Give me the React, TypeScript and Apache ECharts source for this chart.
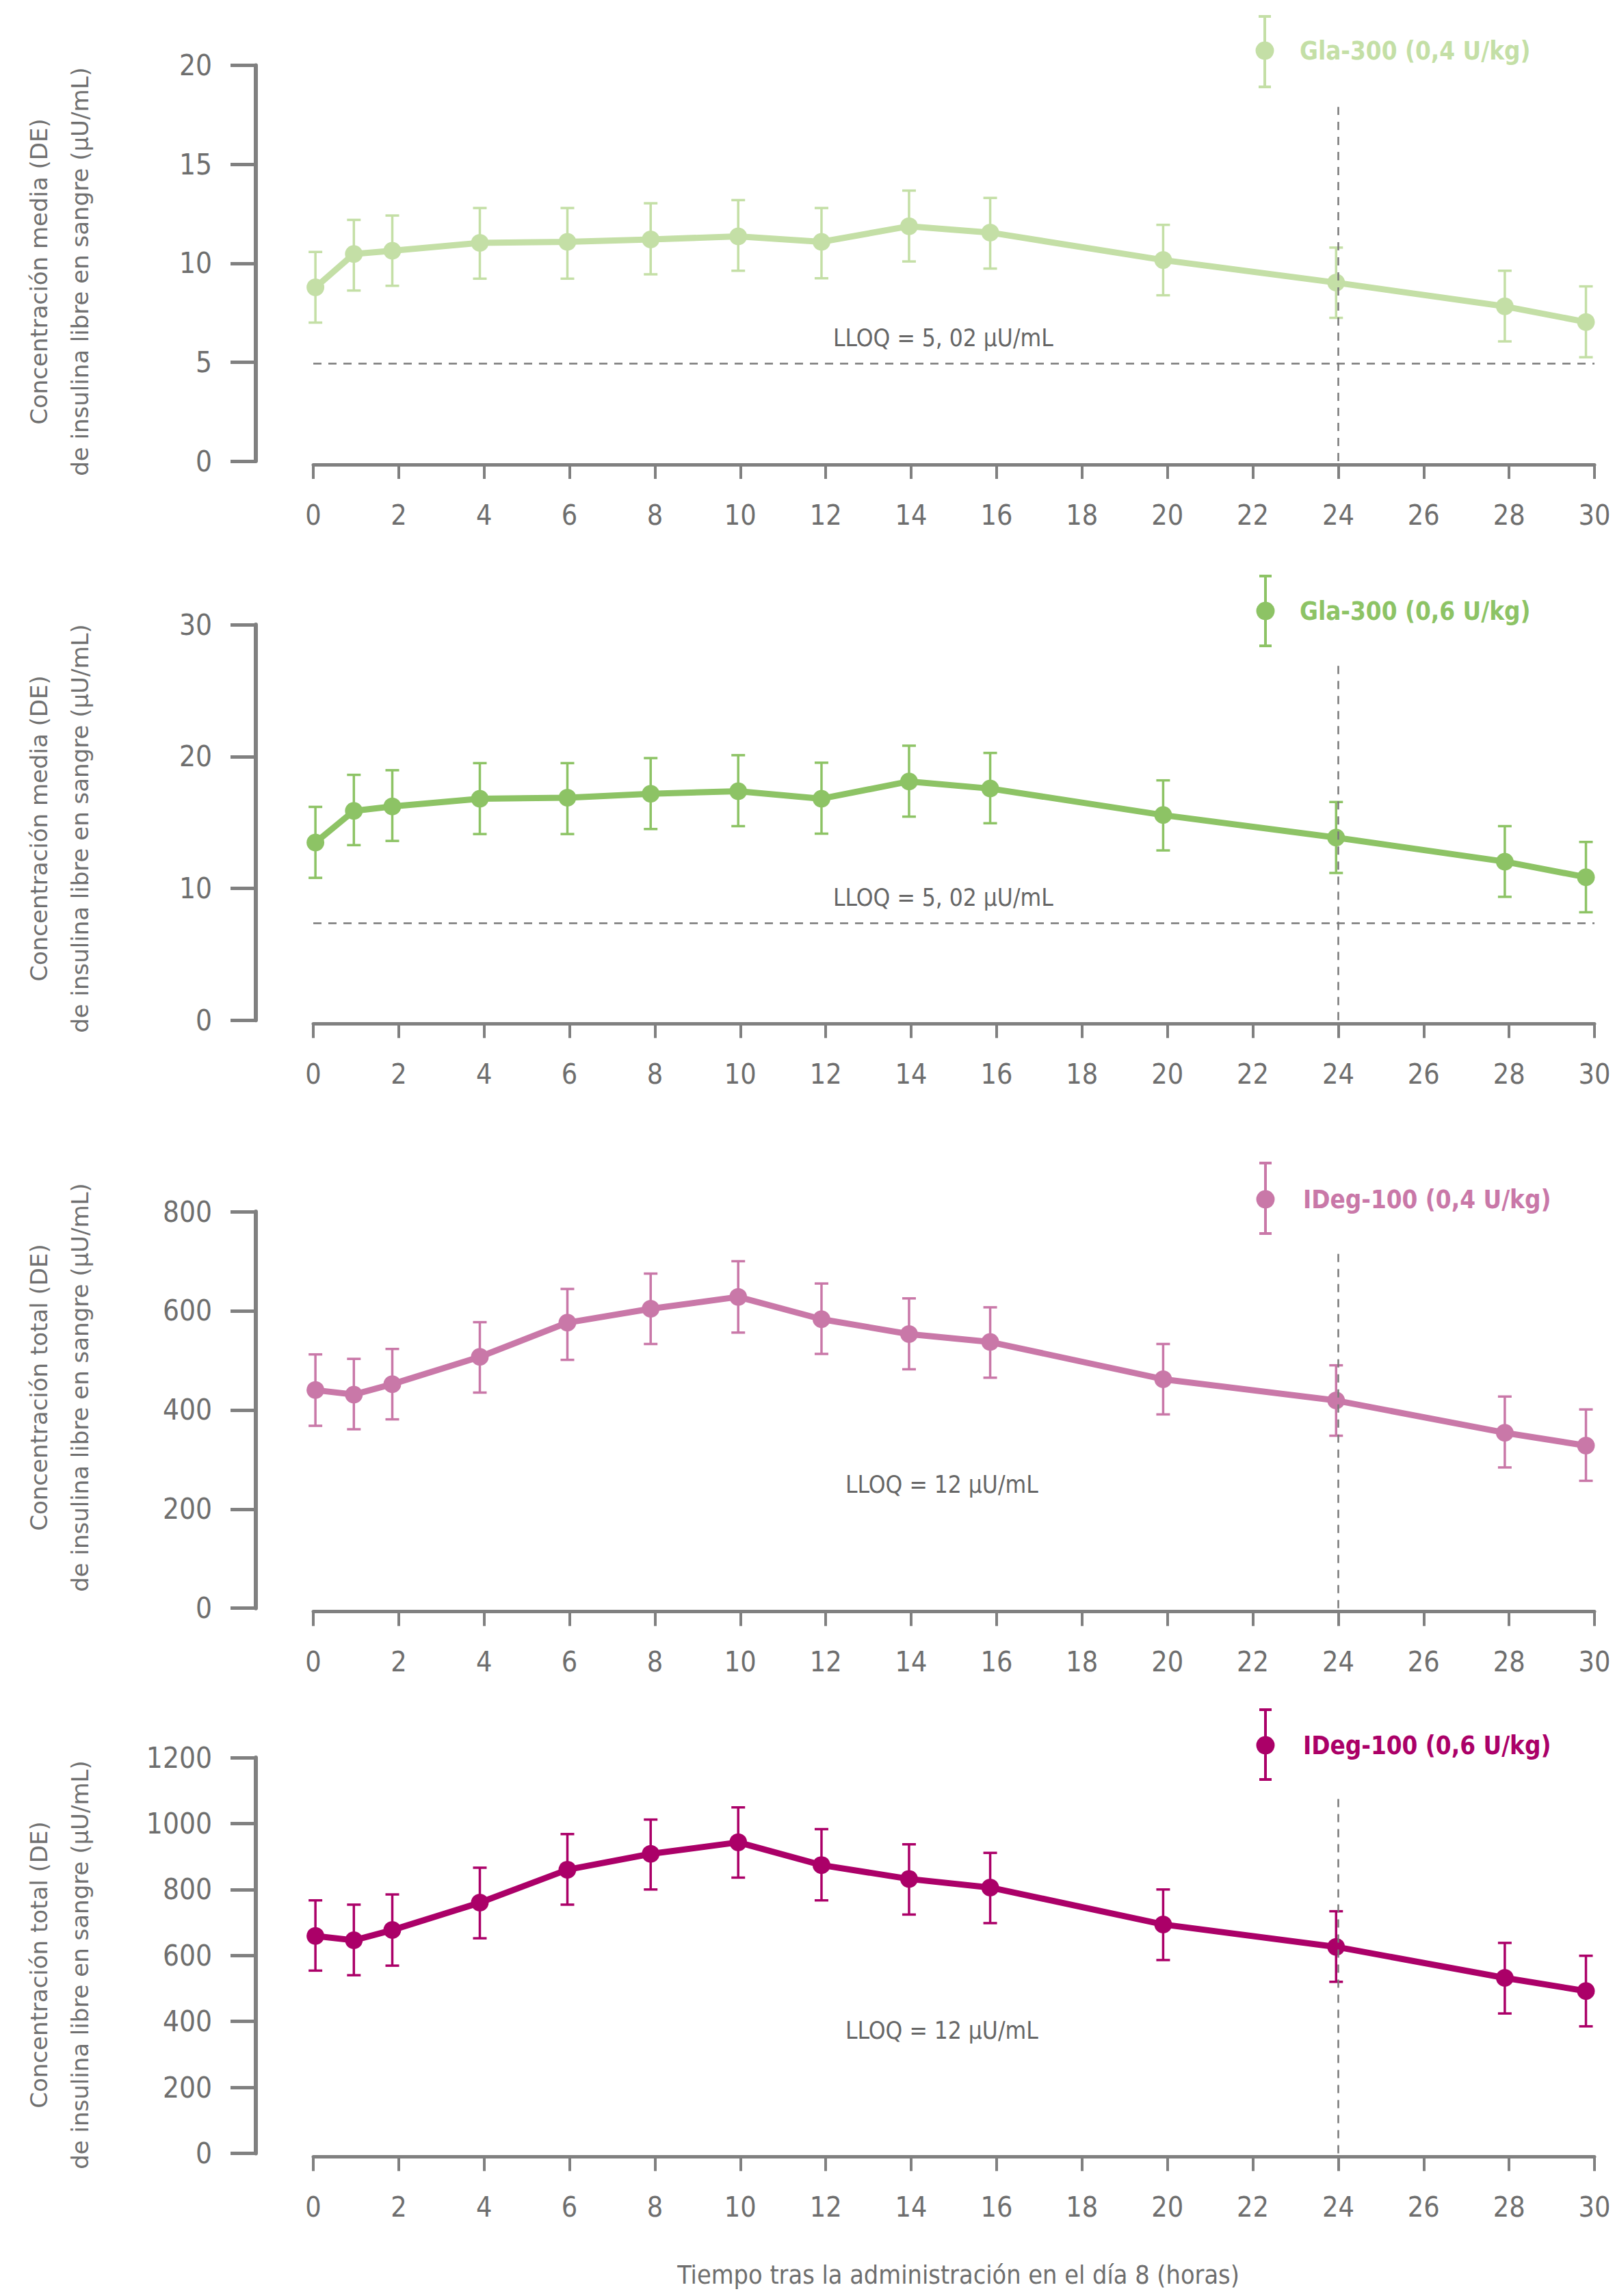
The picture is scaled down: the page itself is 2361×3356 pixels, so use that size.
import React, { useEffect, useRef } from "react";
import * as echarts from "echarts";

// ---------- data ----------
const times = [0.05, 0.95, 1.85, 3.9, 5.95, 7.9, 9.95, 11.9, 13.95, 15.85, 19.9, 23.95, 27.9, 29.8];
const xTicks = { min: 0, max: 30, interval: 2 };

const gla04Mean = [8.78, 10.47, 10.63, 11.03, 11.08, 11.2, 11.36, 11.08, 11.87, 11.55, 10.16, 9.02, 7.82, 7.03];
const gla04Hi = [10.57, 12.19, 12.41, 12.79, 12.79, 13.03, 13.19, 12.79, 13.67, 13.3, 11.94, 10.79, 9.62, 8.83];
const gla04Lo = [7.0, 8.62, 8.86, 9.22, 9.22, 9.44, 9.62, 9.24, 10.09, 9.73, 8.38, 7.24, 6.05, 5.25];

const gla06Mean = [13.48, 15.88, 16.21, 16.8, 16.88, 17.17, 17.37, 16.8, 18.11, 17.57, 15.56, 13.85, 12.03, 10.85];
const gla06Hi = [16.18, 18.61, 18.96, 19.5, 19.5, 19.88, 20.1, 19.53, 20.82, 20.27, 18.19, 16.55, 14.72, 13.52];
const gla06Lo = [10.8, 13.28, 13.6, 14.12, 14.12, 14.5, 14.72, 14.15, 15.44, 14.94, 12.88, 11.17, 9.36, 8.19];

const ideg04Mean = [440, 431, 452, 507, 576, 604, 628, 583, 553, 537, 462, 419, 354, 328];
const ideg04Hi = [512, 503, 523, 577, 644, 675, 700, 655, 625, 607, 533, 490, 427, 401];
const ideg04Lo = [368, 361, 381, 435, 501, 533, 556, 513, 482, 465, 391, 348, 284, 257];

const ideg06Mean = [659, 646, 677, 760, 860, 908, 943, 874, 832, 806, 694, 626, 532, 492];
const ideg06Hi = [767, 754, 785, 866, 968, 1012, 1049, 983, 937, 911, 800, 734, 638, 599];
const ideg06Lo = [554, 540, 569, 652, 754, 800, 836, 767, 724, 698, 586, 520, 424, 385];

const seriesNames = ["Gla-300 (0,4 U/kg)", "Gla-300 (0,6 U/kg)", "IDeg-100 (0,4 U/kg)", "IDeg-100 (0,6 U/kg)"];
const yMax = [20, 30, 800, 1200];
const yInterval = [5, 10, 200, 200];
const lloqLabels = ["LLOQ = 5, 02 µU/mL", "LLOQ = 5, 02 µU/mL", "LLOQ = 12 µU/mL", "LLOQ = 12 µU/mL"];
const lloqLineValue = [4.92, 7.38, null, null];
const refHour = 24;
const refLineTop = [17.9, 26.9, 717, 1078];
const yTitleLine1 = [
  "Concentración media (DE)",
  "Concentración media (DE)",
  "Concentración total (DE)",
  "Concentración total (DE)",
];
const yTitleLine2 = "de insulina libre en sangre (µU/mL)";
const xTitle = "Tiempo tras la administración en el día 8 (horas)";

// ---------- layout / style ----------
const W = 2361;
const H = 3356;
const colors = ["#c4dfa6", "#8dc365", "#c978a8", "#ab0068"];
const grids = [
  { top: 95.5, height: 578.5 },
  { top: 913, height: 578.3 },
  { top: 1771, height: 579.7 },
  { top: 2569, height: 578.4 },
];
const gridLeft = 458;
const gridRight = 2331;
const axisColor = "#808080";
const labelColor = "#6e6e6e";
const narrowFont = "'Liberation Sans Narrow', 'DejaVu Sans Condensed', 'Roboto', sans-serif";
const wideFont = "'DejaVu Sans', 'Noto Sans', sans-serif";

const legendPos = [
  { x: 1849, y: 74, top: 24, bottom: 127, tx: 1900 },
  { x: 1850, y: 893, top: 842, bottom: 944, tx: 1900 },
  { x: 1850, y: 1753, top: 1700, bottom: 1803, tx: 1905 },
  { x: 1850, y: 2551, top: 2499, bottom: 2601, tx: 1905 },
];
const lloqTextPos = [
  { x: 1218, y: 494 },
  { x: 1218, y: 1312 },
  { x: 1236, y: 2170 },
  { x: 1236, y: 2968 },
];
const yTitleCenter = [397, 1211, 2028, 2872];

const means = [gla04Mean, gla06Mean, ideg04Mean, ideg06Mean];
const highs = [gla04Hi, gla06Hi, ideg04Hi, ideg06Hi];
const lows = [gla04Lo, gla06Lo, ideg04Lo, ideg06Lo];

function buildOption() {
  const grid: any[] = [];
  const xAxis: any[] = [];
  const yAxis: any[] = [];
  const series: any[] = [];
  const graphic: any[] = [];

  for (let i = 0; i < 4; i++) {
    const g = grids[i];
    grid.push({ left: gridLeft, width: gridRight - gridLeft, top: g.top, height: g.height, containLabel: false });
    xAxis.push({
      type: "value",
      gridIndex: i,
      min: xTicks.min,
      max: xTicks.max,
      interval: xTicks.interval,
      offset: 5,
      axisLine: { show: true, onZero: false, lineStyle: { color: axisColor, width: 5 } },
      axisTick: { show: true, length: 21, lineStyle: { color: axisColor, width: 4 } },
      splitLine: { show: false },
      axisLabel: {
        color: labelColor,
        fontSize: 41,
        fontFamily: narrowFont,
        margin: 53,
        formatter: (v: number) => String(v),
      },
    });
    yAxis.push({
      type: "value",
      gridIndex: i,
      min: 0,
      max: yMax[i],
      interval: yInterval[i],
      offset: gridLeft - 374,
      axisLine: { show: true, onZero: false, lineStyle: { color: axisColor, width: 6 } },
      axisTick: { show: true, length: 37, lineStyle: { color: axisColor, width: 5 } },
      splitLine: { show: false },
      axisLabel: {
        color: labelColor,
        fontSize: 42,
        fontFamily: narrowFont,
        margin: 64,
        formatter: (v: number) => String(v),
      },
    });

    const color = colors[i];
    const markData: any[] = [
      [{ coord: [refHour, 0] }, { coord: [refHour, refLineTop[i]] }],
    ];
    if (lloqLineValue[i] != null) {
      markData.push([{ coord: [xTicks.min, lloqLineValue[i]] }, { coord: [xTicks.max, lloqLineValue[i]] }]);
    }

    // error bars
    const errData = times.map((t, k) => [t, lows[i][k], highs[i][k]]);
    series.push({
      type: "custom",
      name: seriesNames[i] + " DE",
      xAxisIndex: i,
      yAxisIndex: i,
      z: 2,
      encode: { x: 0, y: [1, 2] },
      data: errData,
      renderItem: (params: any, api: any) => {
        const x = api.value(0);
        const pHi = api.coord([x, api.value(2)]);
        const pLo = api.coord([x, api.value(1)]);
        const w = 10;
        const st = { stroke: color, lineWidth: 3.5 };
        return {
          type: "group",
          children: [
            { type: "line", shape: { x1: pHi[0], y1: pHi[1], x2: pLo[0], y2: pLo[1] }, style: st },
            { type: "line", shape: { x1: pHi[0] - w, y1: pHi[1], x2: pHi[0] + w, y2: pHi[1] }, style: st },
            { type: "line", shape: { x1: pLo[0] - w, y1: pLo[1], x2: pLo[0] + w, y2: pLo[1] }, style: st },
          ],
        };
      },
    });

    series.push({
      type: "line",
      name: seriesNames[i],
      xAxisIndex: i,
      yAxisIndex: i,
      z: 3,
      data: times.map((t, k) => [t, means[i][k]]),
      symbol: "circle",
      symbolSize: 26,
      itemStyle: { color },
      lineStyle: { color, width: 9 },
      markLine: {
        silent: true,
        symbol: ["none", "none"],
        label: { show: false },
        lineStyle: { color: "#7a7a7a", width: 2.5, type: [12, 10] },
        data: markData,
      },
    });

    // y-axis title (two rotated lines)
    const titleStyle = {
      fill: "#707070",
      fontSize: 34,
      fontFamily: wideFont,
      align: "center",
      verticalAlign: "middle",
      textAlign: "center",
      textVerticalAlign: "middle",
    };
    graphic.push({
      type: "text",
      x: 57,
      y: yTitleCenter[i],
      rotation: Math.PI / 2,
      style: { ...titleStyle, text: yTitleLine1[i] },
    });
    graphic.push({
      type: "text",
      x: 117,
      y: yTitleCenter[i],
      rotation: Math.PI / 2,
      style: { ...titleStyle, text: yTitleLine2 },
    });

    // LLOQ text
    graphic.push({
      type: "text",
      x: lloqTextPos[i].x,
      y: lloqTextPos[i].y,
      style: {
        text: lloqLabels[i],
        fill: "#666666",
        fontSize: 35,
        fontFamily: narrowFont,
        align: "left",
        verticalAlign: "middle",
        textAlign: "left",
        textVerticalAlign: "middle",
      },
    });

    // legend
    const L = legendPos[i];
    const lst = { stroke: color, lineWidth: 4 };
    graphic.push({ type: "line", shape: { x1: L.x, y1: L.top, x2: L.x, y2: L.bottom }, style: lst });
    graphic.push({ type: "line", shape: { x1: L.x - 9, y1: L.top, x2: L.x + 9, y2: L.top }, style: lst });
    graphic.push({ type: "line", shape: { x1: L.x - 9, y1: L.bottom, x2: L.x + 9, y2: L.bottom }, style: lst });
    graphic.push({ type: "circle", shape: { cx: L.x, cy: L.y, r: 13.5 }, style: { fill: color } });
    graphic.push({
      type: "text",
      x: L.tx,
      y: L.y,
      style: {
        text: seriesNames[i],
        fill: color,
        fontSize: 36.5,
        fontWeight: "bold",
        fontFamily: narrowFont,
        align: "left",
        verticalAlign: "middle",
        textAlign: "left",
        textVerticalAlign: "middle",
      },
    });
  }

  // x-axis title
  graphic.push({
    type: "text",
    x: 1401,
    y: 3325,
    style: {
      text: xTitle,
      fill: "#6e6e6e",
      fontSize: 37.5,
      fontFamily: narrowFont,
      align: "center",
      verticalAlign: "middle",
      textAlign: "center",
      textVerticalAlign: "middle",
    },
  });

  return {
    animation: false,
    backgroundColor: "#ffffff",
    grid,
    xAxis,
    yAxis,
    series,
    graphic,
  };
}

export default function App() {
  const ref = useRef<HTMLDivElement>(null);
  useEffect(() => {
    if (!ref.current) return;
    const chart = echarts.init(ref.current, null, { renderer: "svg", width: W, height: H });
    chart.setOption(buildOption() as any);
    return () => chart.dispose();
  }, []);
  return (
    <div
      ref={ref}
      style={{ position: "absolute", left: 0, top: 0, width: W, height: H, background: "#fff" }}
    />
  );
}
